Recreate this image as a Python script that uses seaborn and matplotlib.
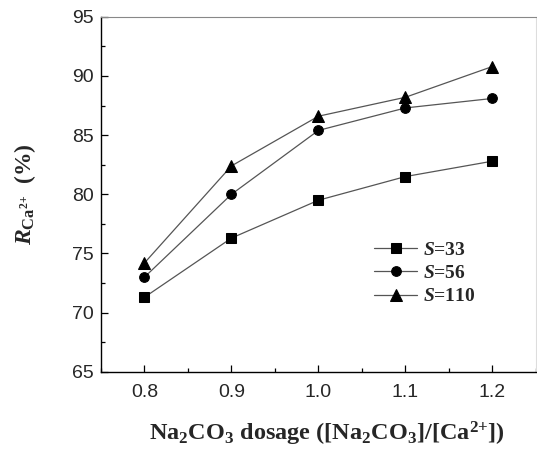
import matplotlib
matplotlib.use('Agg')
import matplotlib.pyplot as plt
import seaborn as sns
import pandas as pd
from matplotlib.ticker import MultipleLocator

# data
dosage = [0.8, 0.9, 1.0, 1.1, 1.2]
r_s33 = [71.3, 76.3, 79.5, 81.5, 82.8]
r_s56 = [73.0, 80.0, 85.4, 87.3, 88.1]
r_s110 = [74.2, 82.4, 86.6, 88.2, 90.8]
series_names = ['33', '56', '110']
series_markers = ['s', 'o', '^']

sns.set_theme(style='ticks')
plt.rcParams['font.family'] = ['Liberation Sans', 'DejaVu Sans']
plt.rcParams['mathtext.fontset'] = 'custom'
plt.rcParams['mathtext.rm'] = 'Liberation Serif:bold'
plt.rcParams['mathtext.it'] = 'Liberation Serif:italic'
plt.rcParams['mathtext.bf'] = 'Liberation Serif:bold'
plt.rcParams['mathtext.bfit'] = 'Liberation Serif:bold:italic'

df = pd.DataFrame({
    'dosage': dosage * 3,
    'R': r_s33 + r_s56 + r_s110,
    'S': [n for n in series_names for _ in dosage],
})

fig = plt.figure(figsize=(5.37, 4.54), dpi=100)
ax = fig.add_axes([0.188, 0.181, 0.81, 0.782])

for name, mk in zip(series_names, series_markers):
    sub = df[df['S'] == name]
    sns.lineplot(data=sub, x='dosage', y='R', ax=ax, color='#555555',
                 linewidth=0.9, marker=mk, markersize=7 if mk != '^' else 8,
                 markerfacecolor='black', markeredgecolor='black',
                 label=r'$\mathbfit{S}$=' + name)

ax.set_xlim(0.75, 1.25)
ax.set_ylim(65, 95)
ax.xaxis.set_major_locator(MultipleLocator(0.1))
ax.xaxis.set_minor_locator(MultipleLocator(0.05))
ax.yaxis.set_major_locator(MultipleLocator(5))
ax.yaxis.set_minor_locator(MultipleLocator(2.5))
ax.set_xticks(dosage)
ax.set_xticklabels(['0.8', '0.9', '1.0', '1.1', '1.2'])
ax.tick_params(which='both', direction='in', labelsize=14, color='black')
ax.tick_params(which='major', length=5, width=0.9)
ax.tick_params(which='minor', length=3, width=0.9)
ax.tick_params(axis='y', pad=5)
ax.tick_params(axis='x', pad=9)

for side in ['left', 'bottom']:
    ax.spines[side].set_color('black')
    ax.spines[side].set_linewidth(1.0)
ax.spines['top'].set_color('#888888')
ax.spines['top'].set_linewidth(0.8)
ax.spines['right'].set_color('#dddddd')
ax.spines['right'].set_linewidth(0.8)

ax.set_xlabel(r'Na$_\mathbf{2}$CO$_\mathbf{3}$ dosage ([Na$_\mathbf{2}$CO$_\mathbf{3}$]/[Ca$^{\text{2+}}$])',
              family='Liberation Serif', fontweight='bold', fontsize=17.5, labelpad=16)
ax.xaxis.set_label_coords(0.52, -0.135)
ax.set_ylabel(r'$\mathbfit{R}_{\mathbf{Ca}^{\text{2+}}}$  (%)',
              family='Liberation Serif', fontweight='bold', fontsize=17)
ax.yaxis.set_label_coords(-0.145, 0.5)

leg = ax.legend(loc='upper left', bbox_to_anchor=(0.588, 0.418), frameon=False,
                prop={'family': 'Liberation Serif', 'weight': 'bold', 'size': 14},
                handlelength=2.2, labelspacing=0.3, handletextpad=0.3)

fig.savefig('out.png', dpi=100)
